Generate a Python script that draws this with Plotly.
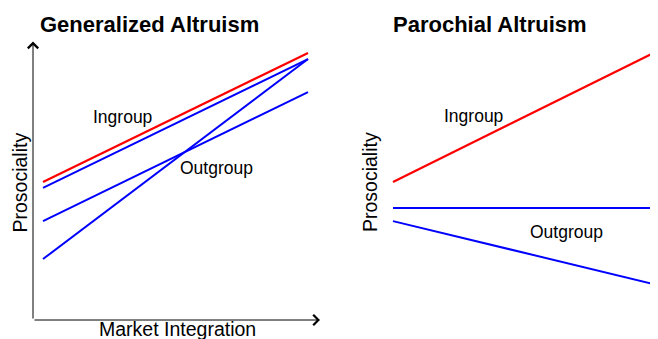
import plotly.graph_objects as go

# ---- data (conceptual scale: market integration 0..1, prosociality 0..10) ----
market = [0, 1]

gen_ingroup = [4.98, 9.64]
gen_outgroups = {
    "Outgroup A": [4.77, 9.42],
    "Outgroup B": [3.57, 8.23],
    "Outgroup C": [2.20, 9.42],
}

par_ingroup = [4.98, 9.72]
par_outgroups = {
    "Outgroup flat": [4.04, 4.04],
    "Outgroup falling": [3.57, 1.26],
}

titles = ["Generalized Altruism", "Parochial Altruism"]
y_label = "Prosociality"
x_label = "Market Integration"

# page has an 8px body margin
OFF = 8
W, H = 658, 339 - OFF
FONT = "Liberation Sans, Arial, sans-serif"
RED = "#ff0000"
BLUE = "#0000ff"


def px(xp):
    return (xp - OFF) / W


def py(yp):
    return 1 - (yp - OFF) / H


fig = go.Figure()

# left panel lines
fig.add_trace(go.Scatter(x=market, y=gen_ingroup, mode="lines",
                         line=dict(color=RED, width=2.2), xaxis="x", yaxis="y",
                         showlegend=False, hoverinfo="skip"))
for name, vals in gen_outgroups.items():
    fig.add_trace(go.Scatter(x=market, y=vals, mode="lines", name=name,
                             line=dict(color=BLUE, width=2), xaxis="x", yaxis="y",
                             showlegend=False, hoverinfo="skip"))

# right panel lines
fig.add_trace(go.Scatter(x=market, y=par_ingroup, mode="lines",
                         line=dict(color=RED, width=2.2), xaxis="x2", yaxis="y2",
                         showlegend=False, hoverinfo="skip"))
for name, vals in par_outgroups.items():
    fig.add_trace(go.Scatter(x=market, y=vals, mode="lines", name=name,
                             line=dict(color=BLUE, width=2), xaxis="x2", yaxis="y2",
                             showlegend=False, hoverinfo="skip"))

xlo = -10 / 265
left_xrange = [xlo, 1 + 12 / 265]
right_xrange = [xlo, 1 + 4 / 265]
yrange = [0, 10]
ydom = [py(320), py(43)]

ax_common = dict(visible=False, showgrid=False, zeroline=False, fixedrange=True)
fig.update_layout(
    width=W, height=H,
    margin=dict(l=0, r=0, t=0, b=0),
    paper_bgcolor="white", plot_bgcolor="white",
    font=dict(family=FONT, color="black"),
    xaxis=dict(domain=[px(33), px(320)], range=left_xrange, anchor="y", **ax_common),
    yaxis=dict(domain=ydom, range=yrange, anchor="x", **ax_common),
    xaxis2=dict(domain=[px(383), px(662)], range=right_xrange, anchor="y2", **ax_common),
    yaxis2=dict(domain=ydom, range=yrange, anchor="x2", **ax_common),
)

annotations = []
# axis arrows
annotations.append(dict(xref="x", yref="y", axref="x", ayref="y",
                        x=xlo, y=10.05, ax=xlo, ay=0, text="", showarrow=True,
                        arrowhead=4, arrowsize=2, arrowwidth=1, arrowcolor="black"))
annotations.append(dict(xref="x", yref="y", axref="x", ayref="y",
                        x=left_xrange[1], y=0, ax=xlo, ay=0, text="", showarrow=True,
                        arrowhead=4, arrowsize=2, arrowwidth=1, arrowcolor="black"))
annotations.append(dict(xref="x2", yref="y2", axref="x2", ayref="y2",
                        x=xlo, y=10.05, ax=xlo, ay=-0.05, text="", showarrow=True,
                        arrowhead=4, arrowsize=1.4, arrowwidth=1.5, arrowcolor="#808080"))

# group labels
lab = dict(showarrow=False, xanchor="left", yanchor="middle", font=dict(size=17.5, family=FONT))
annotations.append(dict(xref="x", yref="y", x=0.182, y=7.33, text="Ingroup", **lab))
annotations.append(dict(xref="x", yref="y", x=0.51, y=5.49, text="Outgroup", **lab))
annotations.append(dict(xref="x2", yref="y2", x=0.185, y=7.36, text="Ingroup", **lab))
annotations.append(dict(xref="x2", yref="y2", x=0.51, y=3.18, text="Outgroup", **lab))

# titles
for tx, xp in zip(titles, [38, 391]):
    annotations.append(dict(xref="paper", yref="paper", x=px(xp), y=py(24),
                            text="<b>" + tx + "</b>", showarrow=False,
                            xanchor="left", yanchor="middle",
                            font=dict(size=22, family=FONT)))

# axis titles
for xp in [19, 369.5]:
    annotations.append(dict(xref="paper", yref="paper", x=px(xp), y=py(182.5),
                            text=y_label, textangle=-90, showarrow=False,
                            xanchor="center", yanchor="middle",
                            font=dict(size=19.5, family=FONT)))
annotations.append(dict(xref="paper", yref="paper", x=px(177), y=py(329),
                        text=x_label, showarrow=False, xanchor="center", yanchor="middle",
                        font=dict(size=19.5, family=FONT)))

fig.update_layout(annotations=annotations)
fig.write_html("out.html")
